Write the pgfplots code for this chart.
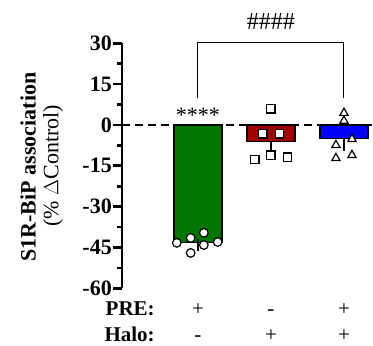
\documentclass[border=0pt]{standalone}
\usepackage{pgfplots}
\pgfplotsset{compat=1.18}
\usepackage{fontspec}
\setmainfont{Liberation Serif}
\definecolor{gbar}{RGB}{0,118,0}
\definecolor{rbar}{RGB}{160,0,0}
\definecolor{bbar}{RGB}{0,0,255}
\newcommand{\bigfont}{\fontsize{22}{25}\selectfont}
\newcommand{\rowfont}{\fontsize{21}{24}\selectfont}
\begin{document}
\begin{tikzpicture}
\path[use as bounding box] (-122pt,-57.7pt) rectangle (251pt,288.3pt);
\begin{axis}[
  at={(0,0)}, anchor=south west,
  scale only axis, width=250pt, height=245pt,
  xmin=-0.041, xmax=3.384, ymin=-60, ymax=30,
  axis y line=left, axis x line=none,
  axis line style={-, line width=2.7pt, black},
  ytick={-60,-45,...,30}, minor ytick={-52.5,-37.5,...,22.5},
  tick align=outside, major tick length=9pt, minor tick length=5pt,
  every tick/.append style={line width=2.7pt, black},
  yticklabel style={font=\bigfont\bfseries, inner sep=1pt},
  /pgf/number format/assume math mode=true,
  clip=false,
]
% bars
\addplot[ybar, bar width=48pt, bar shift=0pt, fill=gbar, draw=black, line width=1.2pt,
  error bars/.cd, y dir=minus, y explicit, error bar style={line width=1.2pt, black}, error mark options={line width=1.2pt, mark size=6pt}]
  coordinates {(1,-43.1) -= (0,1.1)};
\addplot[ybar, bar width=48pt, bar shift=0pt, fill=rbar, draw=black, line width=1.2pt,
  error bars/.cd, y dir=minus, y explicit, error bar style={line width=1.2pt, black}, error mark options={line width=1.2pt, mark size=6pt}]
  coordinates {(2,-6.0) -= (0,3.3)};
\addplot[ybar, bar width=48pt, bar shift=0pt, fill=bbar, draw=black, line width=1.2pt,
  error bars/.cd, y dir=minus, y explicit, error bar style={line width=1.2pt, black}, error mark options={line width=1.2pt, mark size=6pt}]
  coordinates {(3,-5.1) -= (0,2.2)};
% zero line
\addplot[black, line width=2.7pt, dash pattern=on 8pt off 5pt] coordinates {(-0.041,0) (3.384,0)};
% points
\addplot[only marks, mark=*, mark size=4.3pt, mark options={fill=white, draw=black, line width=1.2pt}]
  table {
x y
0.71 -43.3
0.90 -41.5
1.08 -39.6
1.08 -44.1
1.27 -43.0
0.90 -47.0
};
\addplot[only marks, mark=square*, mark size=4.1pt, mark options={fill=white, draw=black, line width=1.2pt}]
  table {
x y
2.00 5.9
1.89 -3.3
2.12 -3.3
1.78 -12.6
2.00 -11.1
2.23 -11.8
};
\addplot[only marks, mark=triangle*, mark size=4.8pt, mark options={fill=white, draw=black, line width=1.2pt}]
  table {
x y
3.00 4.4
3.00 1.5
3.11 -5.2
2.89 -7.4
2.89 -12.2
3.11 -11.1
};
% bracket
\draw[line width=1pt] (axis cs:1,10) -- (axis cs:1,30.2) -- (axis cs:3,30.2) -- (axis cs:3,10);
\node[anchor=center] at (axis cs:2,38) {\resizebox{48pt}{16pt}{\#\#\#\#}};
\node[anchor=base, font=\bigfont] at (axis cs:1,0.8) {****};
% bottom rows
\node[anchor=base east, inner sep=0pt, font=\rowfont\bfseries] at ([yshift=-27.5pt]axis cs:0.41,-60) {PRE:};
\node[anchor=base east, inner sep=0pt, font=\rowfont\bfseries] at ([yshift=-53.5pt]axis cs:0.41,-60) {Halo:};
\node[anchor=base, inner sep=0pt, font=\rowfont] at ([yshift=-27pt]axis cs:1,-60) {+};
\node[anchor=base, inner sep=0pt, font=\rowfont] at ([yshift=-27pt]axis cs:2,-60) {-};
\node[anchor=base, inner sep=0pt, font=\rowfont] at ([yshift=-27pt]axis cs:3,-60) {+};
\node[anchor=base, inner sep=0pt, font=\rowfont] at ([yshift=-53pt]axis cs:1,-60) {-};
\node[anchor=base, inner sep=0pt, font=\rowfont] at ([yshift=-53pt]axis cs:2,-60) {+};
\node[anchor=base, inner sep=0pt, font=\rowfont] at ([yshift=-53pt]axis cs:3,-60) {+};
% y label
\node[rotate=90, font=\bigfont\bfseries] at ([xshift=-94pt]rel axis cs:0,0.495) {S1R-BiP association};
\node[rotate=90, font=\bigfont] at ([xshift=-69pt]rel axis cs:0,0.5) {(\% $\Delta$Control)};
\end{axis}
\end{tikzpicture}
\end{document}
